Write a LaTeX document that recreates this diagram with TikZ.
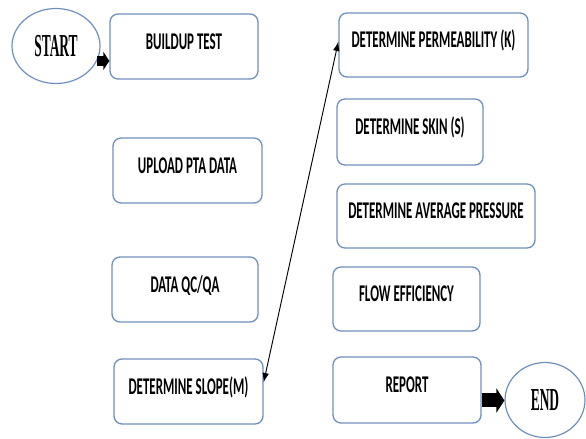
\documentclass[tikz,border=0pt]{standalone}
\usepackage{xcolor}
\usepackage{fontspec}
\usepackage{tikz}
\usetikzlibrary{arrows.meta,shapes.geometric}

\newfontfamily\boxfont[FakeStretch=0.54]{Carlito}
\newfontfamily\termfont[FakeStretch=0.42]{Liberation Serif}
\definecolor{boxline}{RGB}{110,144,190}

\begin{document}
\begin{tikzpicture}[
        x=0.75pt, y=-0.75pt,
        procbox/.style={
            rectangle, rounded corners=6pt, draw=boxline, line width=1pt,
            minimum width=111pt, minimum height=48.75pt, inner sep=0pt,
            font=\boxfont\bfseries\fontsize{18}{21}\selectfont,
            text height=0.68em, text depth=0.3em
        },
        termnode/.style={
            ellipse, draw=boxline, line width=0.9pt,
            minimum width=66pt, minimum height=56.25pt, inner sep=0pt,
            font=\termfont\bfseries\fontsize{24}{28}\selectfont
        },
        blockarrow/.style={line width=7.5pt, -{Triangle[length=4.5pt,width=13.5pt]}}
    ]

    \useasboundingbox (0,0) rectangle (586,439);

    \node[termnode] (start) at (56,46) {START};
    \node[termnode, minimum width=60pt] (finish) at (545,400) {END};

    \node[procbox] (buildup) at (184,46.5) {BUILDUP TEST};
    \node[procbox, minimum width=111.75pt] (upload) at (187.5,170.5) {UPLOAD PTA DATA};
    \node[procbox, minimum width=109.5pt] (qcqa) at (185,289.5) {DATA QC/QA};
    \node[procbox, minimum width=111.75pt] (slope) at (188.5,391.5) {DETERMINE SLOPE(M)};

    \node[procbox, minimum width=141.75pt, minimum height=48pt] (perm) at (433.5,45) {DETERMINE PERMEABILITY (K)};
    \node[procbox, minimum width=109.5pt, minimum height=49.5pt] (skin) at (410,132) {DETERMINE SKIN (S)};
    \node[procbox, minimum width=148.5pt, minimum height=48pt] (avgpress) at (436,216) {DETERMINE AVERAGE PRESSURE};
    \node[procbox, minimum width=110.25pt, minimum height=48pt] (floweff) at (406.5,299) {FLOW EFFICIENCY};
    \node[procbox, minimum width=111pt, minimum height=49.5pt] (report) at (407,390) {REPORT};

    % setas grossas
    \draw[blockarrow] (start.-20) -- (start.-20 -| buildup.west);
    \draw[blockarrow, line width=10.5pt, -{Triangle[length=6pt,width=18pt]}] (report.-8) -- (report.-8 -| finish.west);

    % ligacao slope -> permeabilidade
    \draw[line width=0.7pt, {Latex[length=7pt,width=5pt]}-{Latex[length=7pt,width=5pt]}] (slope.7) -- (perm.178);

\end{tikzpicture}
\end{document}
